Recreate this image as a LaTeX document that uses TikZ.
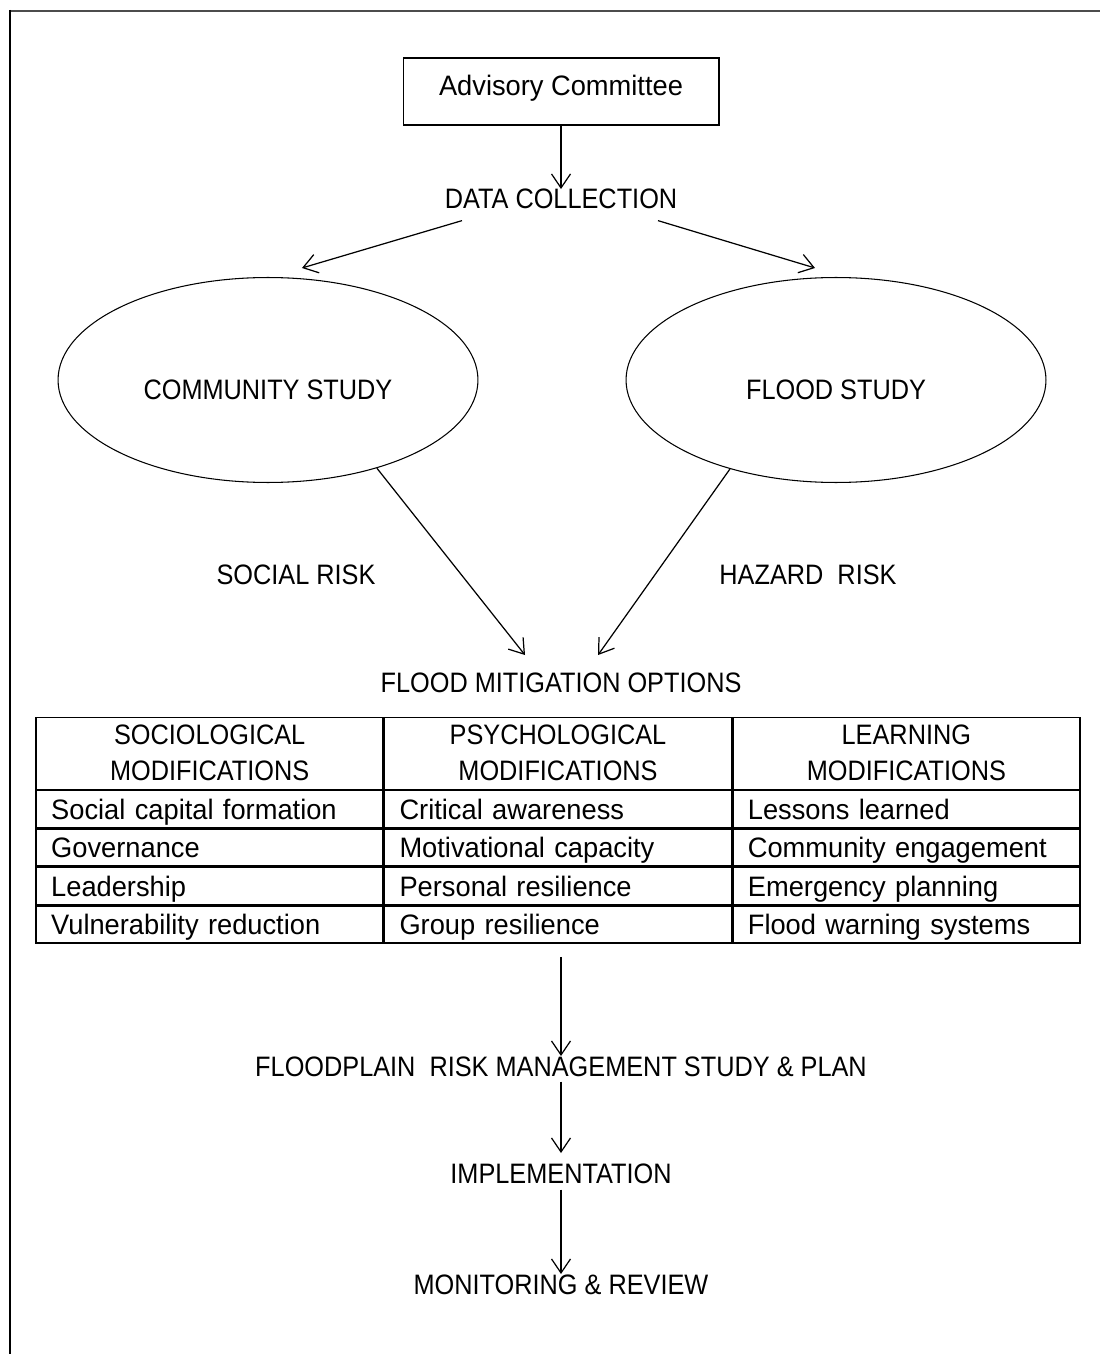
\documentclass[tikz,border=0pt]{standalone}
\usepackage{fontspec}
\setmainfont[FakeStretch=0.97]{Liberation Sans}
\newfontfamily\capsfont[FakeStretch=0.9]{Liberation Sans}
\usepackage{tikz}
\usetikzlibrary{positioning,matrix,shapes.geometric,arrows.meta}

\tikzset{
  flowtext/.style={inner sep=0pt, anchor=base, font=\capsfont\fontsize{16}{20.5}\selectfont},
  studyoval/.style={draw, ellipse, line width=0.6pt, minimum width=8.4cm, minimum height=4.1cm,
                    inner sep=0pt, text height=0.8cm, text depth=0pt,
                    font=\capsfont\fontsize{16}{20.5}\selectfont},
  entry/.style={align=left, minimum height=0.74cm, text height=11.5pt, text depth=0pt},
  flowarrow/.style={->, line width=0.7pt}
}

\begin{document}
\begin{tikzpicture}[x=0.02cm, y=-0.02cm, >={Straight Barb[length=2.8mm,width=3.8mm]},
                    font=\fontsize{16}{20.5}\selectfont]
\useasboundingbox (0,0) rectangle (1100,1354);
\draw[line width=0.04cm, black!70] (10,11) -- (1100,11);
\draw[line width=0.045cm] (10,10) -- (10,1354);

\node[draw, line width=0.6pt, minimum width=6.32cm, minimum height=1.34cm, inner sep=0pt,
      text depth=0.26cm] (adv) at (561,91.5) {Advisory Committee};
\node[flowtext] (data) at (561,209) {DATA COLLECTION};
\node[studyoval] (comm) at (268,380) {COMMUNITY STUDY};
\node[studyoval] (flood) at (836,380) {FLOOD STUDY};
\node[flowtext] (social) at (296,584) {SOCIAL RISK};
\node[flowtext] (hazard) at (808,584) {HAZARD\ \ RISK};
\node[flowtext] (fmo) at (561,692) {FLOOD MITIGATION OPTIONS};

\matrix (opts) [matrix of nodes, inner sep=0pt, column sep=0pt, row sep=0pt,
                nodes={draw, line width=0.8pt, outer sep=0pt, inner xsep=0.3cm, inner ysep=0pt,
                       text width=6.34cm},
                row 1/.style={nodes={align=center, minimum height=1.44cm,
                                     font=\capsfont\fontsize{16}{20.5}\selectfont}},
                row 2/.style={nodes=entry}, row 3/.style={nodes=entry},
                row 4/.style={nodes=entry}, row 5/.style={nodes=entry}]
  at (558,830) {
  {SOCIOLOGICAL\\MODIFICATIONS} & {PSYCHOLOGICAL\\MODIFICATIONS} & {LEARNING\\MODIFICATIONS} \\
  Social capital formation & Critical awareness & Lessons learned \\
  Governance & Motivational capacity & Community engagement \\
  Leadership & Personal resilience & Emergency planning \\
  Vulnerability reduction & Group resilience & Flood warning systems \\
};

\node[flowtext] (fmr) at (561,1076) {FLOODPLAIN\ \ RISK MANAGEMENT STUDY \& PLAN};
\node[flowtext] (impl) at (561,1183) {IMPLEMENTATION};
\node[flowtext] (mon) at (561,1294) {MONITORING \& REVIEW};

\draw[flowarrow] (adv.south) -- (data.north);
\draw[flowarrow] ([xshift=-1.98cm, yshift=-0.22cm]data.south) -- ([xshift=0.68cm, yshift=0.18cm]comm.north);
\draw[flowarrow] ([xshift=1.94cm, yshift=-0.22cm]data.south) -- ([xshift=-0.42cm, yshift=0.18cm]flood.north);
\draw[flowarrow] (comm.-39.4) -- ([xshift=-0.72cm, yshift=0.34cm]fmo.north);
\draw[flowarrow] (flood.-140.6) -- ([xshift=0.74cm, yshift=0.34cm]fmo.north);
\draw[flowarrow, shorten <=0.26cm] (opts.south -| fmr) -- (fmr.north);
\draw[flowarrow, shorten <=0.1cm, shorten >=0.2cm] (fmr.south) -- (impl.north);
\draw[flowarrow, shorten <=0.12cm] (impl.south) -- (mon.north);
\end{tikzpicture}
\end{document}
